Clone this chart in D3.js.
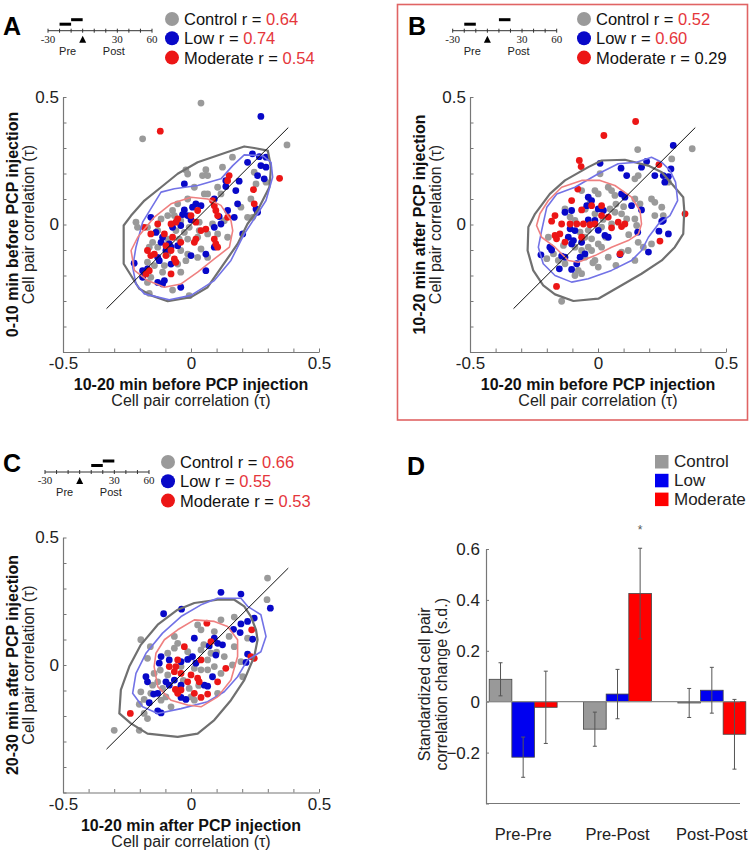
<!DOCTYPE html>
<html><head><meta charset="utf-8">
<script src="https://cdn.jsdelivr.net/npm/d3@7"></script>
<style>
body{margin:0;background:#fff;}
svg{display:block;font-family:"Liberation Sans",Arial,Helvetica,sans-serif;}
</style>
</head><body>
<svg id="chart" width="751" height="853"></svg>
<script>
// ---------- DATA ----------
const groupNames = ["Control", "Low", "Moderate"];
const rA = ["0.64", "0.74", "0.54"], rSigA = [true, true, true];
const rB = ["0.52", "0.60", "0.29"], rSigB = [true, true, false];
const rC = ["0.66", "0.55", "0.53"], rSigC = [true, true, true];

const timeTicks = [-30, -20, -10, 0, 10, 20, 30, 40, 50, 60];
const timeTickLabels = [-30, 30, 60];
const windowsA = [[-20, -10], [-10, 0]];
const windowsB = [[-20, -10], [10, 20]];
const windowsC = [[10, 20], [20, 30]];

const controlA = [[0.039,0.476],[-0.189,0.336],[0.375,0.312],[0.162,0.264],[0.123,0.225],[0.058,0.215],[-0.02,0.214],[-0.013,0.198],[0.045,0.192],[0.065,0.192],[0.247,0.205],[0.254,0.159],[0.293,0.166],[0.013,0.146],[0.052,0.12],[0.065,0.12],[0.117,0.12],[0.234,0.1],[0.241,0.028],[0.221,0.028],[0.195,0.068],[-0.013,0.1],[-0.052,0.081],[-0.072,0.055],[-0.091,0.035],[-0.065,0.035],[-0.04,0.015],[-0.117,0.022],[-0.215,0.009],[-0.17,-0.011],[-0.13,-0.024],[-0.059,-0.024],[-0.026,-0.031],[-0.007,-0.011],[0.032,-0.024],[0.065,-0.037],[0.084,0.002],[0.13,0.015],[0.104,-0.037],[0.143,-0.05],[0.026,-0.05],[-0.013,-0.057],[-0.046,-0.057],[-0.091,-0.057],[-0.15,-0.07],[-0.163,-0.089],[-0.13,-0.089],[-0.04,-0.102],[-0.013,-0.116],[0.039,-0.096],[0.026,-0.129],[0.065,-0.129],[-0.02,-0.142],[-0.052,-0.155],[-0.104,-0.161],[-0.143,-0.161],[-0.17,-0.148],[-0.111,-0.187],[-0.04,-0.187],[-0.157,-0.207],[-0.17,-0.227],[-0.072,-0.257],[-0.163,-0.27],[-0.007,-0.279],[-0.209,-0.011],[0.032,0.009],[0.104,0.146],[-0.091,-0.116]];
const lowA = [[0.273,0.424],[0.24,0.277],[0.267,0.266],[0.293,0.264],[0.221,0.244],[0.273,0.231],[0.293,0.225],[0.26,0.192],[0.286,0.179],[0.188,0.17],[0.136,0.172],[-0.026,0.159],[0.136,0.149],[0.175,0.133],[0.091,0.1],[0.019,0.081],[0.182,0.081],[0.039,0.074],[0.006,0.068],[-0.026,0.057],[-0.033,0.039],[-0.013,0.035],[0.0,0.018],[0.11,0.031],[0.143,0.055],[0.169,0.028],[-0.157,0.028],[0.254,0.061],[0.26,0.048],[0.117,0.002],[0.091,-0.011],[-0.04,-0.004],[-0.072,-0.011],[-0.137,-0.031],[-0.111,-0.05],[-0.117,-0.07],[-0.085,-0.076],[-0.052,-0.083],[-0.078,-0.089],[-0.098,-0.102],[-0.13,-0.129],[-0.124,-0.142],[-0.078,-0.155],[0.0,-0.122],[0.058,-0.116],[0.091,-0.089],[0.202,-0.037],[-0.222,-0.152],[-0.189,-0.181],[-0.17,-0.174],[-0.189,-0.207],[-0.13,-0.227],[-0.111,-0.233],[-0.04,-0.246],[0.058,-0.181],[-0.104,-0.22]];
const moderateA = [[-0.12,0.366],[0.346,0.181],[0.149,0.192],[0.143,0.172],[0.244,0.137],[0.247,0.081],[0.084,0.094],[0.091,0.074],[0.097,0.055],[0.104,0.035],[0.143,0.028],[0.026,0.055],[0.0,0.035],[0.019,0.009],[0.058,-0.018],[0.039,-0.024],[-0.052,0.022],[-0.059,0.009],[-0.078,0.002],[-0.13,0.002],[-0.183,-0.011],[-0.157,-0.037],[-0.104,-0.037],[-0.072,-0.05],[0.013,-0.07],[0.091,-0.057],[0.097,-0.076],[0.104,-0.089],[-0.04,-0.07],[-0.098,-0.083],[-0.078,-0.102],[-0.17,-0.102],[-0.157,-0.122],[-0.143,-0.116],[-0.098,-0.122],[-0.065,-0.135],[-0.059,-0.148],[-0.163,-0.181],[-0.176,-0.194],[-0.078,-0.194],[0.019,-0.057]];
const contourControlA = [[-0.263,-0.004],[-0.263,-0.154],[-0.202,-0.252],[-0.156,-0.278],[-0.091,-0.301],[0,-0.285],[0.065,-0.246],[0.182,-0.076],[0.221,0.003],[0.26,0.055],[0.306,0.146],[0.3125,0.225],[0.3,0.29],[0.247,0.3],[0.208,0.306],[0.143,0.284],[0.026,0.244],[-0.052,0.199],[-0.117,0.146],[-0.182,0.094],[-0.234,0.035]];
const contourLowA = [[-0.117,0.127],[-0.189,0.009],[-0.215,-0.089],[-0.228,-0.167],[-0.215,-0.233],[-0.182,-0.272],[-0.085,-0.295],[0,-0.278],[0.091,-0.22],[0.156,-0.141],[0.208,-0.037],[0.26,0.042],[0.293,0.094],[0.319,0.186],[0.3125,0.244],[0.28,0.27],[0.208,0.273],[0.163,0.231],[0.117,0.179],[0.026,0.153],[-0.065,0.14]];
const contourModerateA = [[-0.234,-0.102],[-0.221,-0.18],[-0.169,-0.22],[-0.104,-0.246],[-0.039,-0.233],[0.026,-0.187],[0.091,-0.135],[0.15,-0.089],[0.163,-0.024],[0.156,0.016],[0.117,0.075],[0.065,0.1],[0,0.107],[-0.078,0.081],[-0.143,0.029],[-0.208,-0.05]];

const controlB = [[0.155,0.294],[0.368,0.297],[0.288,0.257],[0.275,0.166],[0.209,0.1],[0.222,0.087],[0.249,0.068],[0.255,0.035],[0.222,0.035],[0.164,0.081],[0.144,0.022],[0.151,-0.004],[0.157,-0.07],[0.157,0.192],[0.144,0.179],[0.008,0.199],[0.04,0.146],[0.053,0.133],[0.066,0.114],[-0.012,0.133],[-0.064,0.133],[0.001,0.12],[-0.129,0.061],[-0.109,0.029],[-0.09,0.016],[-0.012,0.042],[0.047,0.061],[0.066,0.048],[0.092,0.042],[0.112,0.022],[0.053,0.002],[0.014,-0.01],[-0.038,-0.023],[-0.051,-0.05],[-0.025,-0.056],[0.001,-0.076],[0.014,-0.089],[-0.038,-0.089],[-0.064,-0.102],[-0.025,-0.102],[-0.051,-0.128],[-0.012,-0.141],[0.04,-0.128],[0.092,-0.108],[0.118,-0.102],[0.144,-0.141],[0.001,-0.167],[-0.077,-0.18],[-0.064,-0.193],[-0.09,-0.2],[-0.129,-0.154],[-0.155,-0.141],[-0.174,-0.115],[-0.2,-0.134],[-0.135,-0.082],[-0.194,-0.05],[-0.142,-0.301],[0.144,0.1],[0.209,-0.076],[0.177,-0.089],[-0.09,-0.089],[0.02,0.02],[0.07,0.08],[-0.03,0.09],[0.1,0.07],[-0.07,-0.03],[0.03,-0.05],[0.12,-0.04],[-0.02,-0.15],[0.07,-0.16],[-0.05,0.06]];
const lowB = [[0.294,0.31],[0.008,0.24],[0.09,0.221],[0.112,0.192],[0.17,0.225],[0.19,0.247],[0.222,0.192],[0.255,0.192],[0.275,0.188],[0.285,0.218],[0.261,0.166],[-0.038,0.107],[-0.025,0.094],[-0.044,0.074],[-0.129,0.048],[-0.103,0.055],[0.001,0.061],[0.021,0.055],[0.092,0.12],[0.105,0.107],[0.131,0.074],[0.17,0.057],[-0.038,0.018],[-0.012,0.016],[0.001,-0.023],[0.027,-0.043],[0.04,-0.05],[-0.109,-0.017],[-0.09,-0.024],[-0.116,-0.05],[-0.096,-0.063],[-0.103,-0.076],[-0.064,-0.07],[-0.188,-0.089],[-0.181,-0.1],[-0.223,-0.119],[-0.142,-0.124],[-0.129,-0.128],[-0.07,-0.128],[-0.051,-0.115],[-0.083,-0.154],[-0.103,-0.176],[-0.151,-0.174],[0.086,-0.118],[0.155,-0.03],[0.197,-0.108],[0.238,-0.026],[0.255,0.016],[0.275,-0.037],[0.249,0.012]];
const moderateB = [[0.147,0.404],[0.023,0.349],[-0.073,0.251],[-0.066,0.227],[0.238,0.235],[0.34,0.042],[0.242,-0.065],[-0.162,-0.243],[-0.079,0.139],[-0.103,0.094],[-0.064,0.057],[-0.025,0.074],[0.014,0.074],[0.04,0.029],[0.014,0.035],[-0.168,0.035],[-0.181,0.013],[-0.142,0.002],[-0.109,0.002],[-0.083,0.002],[-0.057,0.002],[-0.031,-0.001],[-0.012,0.002],[-0.168,-0.043],[-0.162,-0.056],[-0.149,-0.037],[0.079,0.009],[0.092,-0.008],[0.105,0.002],[-0.129,-0.069],[0.053,-0.013],[0.086,-0.115],[-0.064,-0.05]];
const contourControlB = [[-0.272,-0.01],[-0.275,-0.102],[-0.253,-0.18],[-0.214,-0.239],[-0.168,-0.274],[-0.096,-0.3],[0.001,-0.291],[0.079,-0.246],[0.17,-0.193],[0.249,-0.141],[0.3,-0.089],[0.333,-0.037],[0.337,0.055],[0.333,0.107],[0.3,0.146],[0.249,0.205],[0.196,0.231],[0.105,0.254],[0.014,0.251],[-0.038,0.225],[-0.129,0.173],[-0.188,0.12],[-0.246,0.042]];
const contourLowB = [[0.001,0.199],[0.079,0.238],[0.151,0.244],[0.209,0.264],[0.249,0.244],[0.281,0.212],[0.303,0.166],[0.311,0.094],[0.281,0.035],[0.236,0.002],[0.197,-0.05],[0.17,-0.102],[0.131,-0.141],[0.053,-0.18],[-0.038,-0.213],[-0.103,-0.226],[-0.168,-0.2],[-0.214,-0.154],[-0.233,-0.089],[-0.22,-0.023],[-0.2,0.068],[-0.161,0.12],[-0.09,0.146]];
const contourModerateB = [[-0.24,-0.004],[-0.22,-0.05],[-0.168,-0.089],[-0.116,-0.141],[-0.077,-0.148],[-0.012,-0.122],[0.053,-0.089],[0.118,-0.063],[0.158,-0.037],[0.17,0.002],[0.164,0.055],[0.131,0.107],[0.066,0.153],[0.008,0.173],[-0.064,0.173],[-0.142,0.146],[-0.194,0.094],[-0.227,0.042]];

const controlC = [[0.299,0.341],[0.297,0.256],[-0.196,0.099],[-0.159,0.072],[-0.17,0.026],[-0.065,0.112],[-0.052,0.085],[0.026,0.157],[0.039,0.138],[0.117,0.177],[0.169,0.188],[0.091,0.131],[0.149,0.112],[0.169,0.072],[0.221,0.105],[0.13,0.033],[0.162,0.0],[0.195,0.013],[0.202,-0.046],[-0.091,0.046],[-0.065,0.066],[-0.013,0.052],[0.039,0.059],[0.065,0.02],[0.091,-0.006],[0.065,-0.019],[0.039,-0.019],[0.013,-0.013],[-0.144,-0.033],[-0.13,-0.066],[-0.15,-0.079],[-0.111,-0.092],[-0.091,-0.039],[-0.157,-0.111],[-0.196,-0.105],[-0.183,-0.135],[-0.117,-0.138],[-0.098,-0.125],[-0.078,-0.164],[0.0,-0.125],[0.013,-0.138],[-0.007,-0.092],[0.104,-0.111],[-0.202,-0.154],[-0.183,-0.19],[-0.17,-0.21],[-0.3,-0.256],[-0.202,-0.256],[0.078,0.046],[0.117,-0.033],[-0.039,-0.006],[0.0,0.03],[0.05,0.08],[-0.03,-0.06],[0.1,0.05],[-0.12,-0.02],[0.03,-0.08]];
const lowC = [[0.117,0.285],[0.195,0.278],[-0.037,0.219],[-0.107,0.201],[0.31,0.223],[0.247,0.184],[0.221,0.171],[0.195,0.161],[0.166,0.14],[0.192,0.127],[0.013,0.105],[0.091,0.105],[0.104,0.085],[0.123,0.079],[0.071,0.075],[-0.117,0.033],[-0.124,0.007],[-0.085,0.02],[-0.013,0.022],[-0.039,0.013],[0.006,0.033],[0.019,0.007],[0.097,0.039],[-0.176,-0.046],[-0.17,-0.066],[-0.098,-0.066],[-0.085,-0.079],[-0.065,-0.059],[-0.039,-0.079],[-0.052,-0.098],[0.052,-0.079],[0.065,-0.083],[-0.039,-0.127],[-0.02,-0.135],[-0.13,-0.111],[-0.163,-0.148],[-0.13,-0.18],[-0.117,-0.188],[0.221,0.043],[0.215,0.01],[0.241,0.101],[-0.146,-0.114],[0.084,-0.046]];
const moderateC = [[0.062,0.164],[0.237,0.138],[0.234,0.033],[0.247,0.026],[0.078,0.092],[-0.026,0.072],[0.039,0.02],[-0.052,0.02],[-0.059,-0.006],[-0.085,-0.006],[-0.065,-0.026],[-0.039,-0.033],[0.0,-0.039],[0.026,-0.052],[0.032,-0.066],[-0.013,-0.066],[0.104,-0.066],[0.136,-0.013],[-0.061,-0.096],[-0.039,-0.098],[-0.052,-0.111],[0.013,-0.111],[0.065,-0.114],[0.039,-0.127],[-0.237,-0.19]];
const contourControlC = [[-0.28,-0.19],[-0.274,-0.098],[-0.241,-0.006],[-0.196,0.079],[-0.13,0.158],[-0.052,0.217],[0.013,0.243],[0.104,0.256],[0.169,0.256],[0.208,0.23],[0.234,0.19],[0.254,0.138],[0.26,0.099],[0.247,0.033],[0.208,-0.059],[0.156,-0.138],[0.091,-0.216],[0.026,-0.269],[-0.052,-0.282],[-0.17,-0.269],[-0.235,-0.229]];
const contourLowC = [[-0.228,-0.111],[-0.215,-0.033],[-0.176,0.046],[-0.111,0.125],[-0.039,0.19],[0.039,0.236],[0.104,0.262],[0.195,0.262],[0.221,0.23],[0.273,0.197],[0.293,0.112],[0.273,0.052],[0.221,0.02],[0.182,-0.046],[0.13,-0.105],[0.065,-0.144],[-0.039,-0.171],[-0.13,-0.19],[-0.189,-0.164]];
const contourModerateC = [[-0.144,-0.006],[-0.13,-0.085],[-0.078,-0.138],[-0.013,-0.157],[0.039,-0.164],[0.104,-0.125],[0.156,-0.059],[0.182,0.033],[0.182,0.099],[0.143,0.151],[0.091,0.171],[0.013,0.177],[-0.052,0.138],[-0.104,0.099],[-0.137,0.046]];

// Panel D
const dGroups = ["Pre-Pre", "Pre-Post", "Post-Post"];
const controlMean = [0.088, -0.108, -0.005];
const lowMean = [-0.218, 0.030, 0.045];
const moderateMean = [-0.022, 0.425, -0.128];
const controlErr = [0.065, 0.067, 0.057];
const lowErr = [0.079, 0.097, 0.090];
const moderateErr = [0.142, 0.178, 0.137];
const dTicks = [-0.4, -0.2, 0, 0.2, 0.4, 0.6];

// ---------- STYLE ----------
const dotColor = {Control: "#9a9a9a", Low: "#0808c8", Moderate: "#ec1616"};
const contourColor = {Control: "#707070", Low: "#7272e6", Moderate: "#ef8080"};
const contourWidth = {Control: 2.2, Low: 1.6, Moderate: 1.6};
const sigRed = "#e5363b";
const axisGray = "#777";

const svg = d3.select("#chart");

function styleAxis(g, fs) {
  g.select(".domain").attr("stroke", axisGray).attr("stroke-width", 1.2);
  g.selectAll(".tick line").attr("stroke", axisGray);
  g.selectAll(".tick text").attr("fill", "#222").style("font-size", fs + "px")
    .style("font-family", '"Liberation Sans",Arial,sans-serif');
}

function scatterPanel(o) {
  const g = svg.append("g");
  const x = d3.scaleLinear().domain([-0.5, 0.5]).range([o.left, o.left + 256]);
  const y = d3.scaleLinear().domain([-0.5, 0.5]).range([o.top + 255, o.top]);
  const tv = d3.range(-5, 6).map(d => d / 10);
  const fmtX = v => Math.abs(v) < 1e-9 ? "0" : (Math.abs(v - 0.5) < 1e-9 ? "0.5" : (Math.abs(v + 0.5) < 1e-9 ? "-0.5" : ""));
  const fmtY = v => Math.abs(v) < 1e-9 ? "0" : (Math.abs(v - 0.5) < 1e-9 ? "0.5" : "");
  g.append("g").attr("transform", `translate(0,${y(-0.5)})`)
    .call(d3.axisBottom(x).tickValues(tv).tickFormat(fmtX).tickSizeInner(-3.5).tickSizeOuter(0).tickPadding(5))
    .call(a => styleAxis(a, 17));
  g.append("g").attr("transform", `translate(${x(-0.5)},0)`)
    .call(d3.axisLeft(y).tickValues(tv).tickFormat(fmtY).tickSizeInner(-3.5).tickSizeOuter(0).tickPadding(4))
    .call(a => styleAxis(a, 17));

  const line = d3.line().x(d => x(d[0])).y(d => y(d[1])).curve(d3.curveLinearClosed);
  const sets = [["Control", o.control], ["Low", o.low], ["Moderate", o.moderate]];
  sets.forEach(([name, pts]) => {
    g.append("g").selectAll("circle").data(pts).join("circle")
      .attr("cx", d => x(d[0])).attr("cy", d => y(d[1])).attr("r", 3.4)
      .attr("fill", dotColor[name]);
  });
  const contours = [["Control", o.cControl], ["Low", o.cLow], ["Moderate", o.cModerate]];
  contours.forEach(([name, pts]) => {
    g.append("path").datum(pts).attr("d", line).attr("fill", "none")
      .attr("stroke", contourColor[name]).attr("stroke-width", contourWidth[name])
      .attr("stroke-linejoin", "round");
  });
  // identity line
  g.append("line").attr("x1", x(-0.33)).attr("y1", y(-0.33)).attr("x2", x(0.38)).attr("y2", y(0.38))
    .attr("stroke", "#111").attr("stroke-width", 1);

  // titles
  const cx = x(0), cy = y(0), by = y(-0.5), lx = x(-0.5);
  g.append("text").attr("x", cx).attr("y", by + 38).attr("text-anchor", "middle")
    .style("font-size", "16px").style("font-weight", "bold").attr("fill", "#111").text(o.xTitle);
  g.append("text").attr("x", cx).attr("y", by + 54).attr("text-anchor", "middle")
    .style("font-size", "16px").attr("fill", "#222").text("Cell pair correlation (τ)");
  g.append("text").attr("transform", `translate(${lx - 45},${cy}) rotate(-90)`).attr("text-anchor", "middle")
    .style("font-size", "16px").style("font-weight", "bold").attr("fill", "#111").text(o.yTitle);
  g.append("text").attr("transform", `translate(${lx - 29},${cy}) rotate(-90)`).attr("text-anchor", "middle")
    .style("font-size", "16px").attr("fill", "#222").text("Cell pair correlation (τ)");

  // panel letter
  svg.append("text").attr("x", o.letterX).attr("y", o.letterY).style("font-size", "25px")
    .style("font-weight", "bold").attr("fill", "#000").text(o.letter);

  timeline(o.tlX, o.tlY, o.windows);
  legend(o.legX, o.legY, o.r, o.rSig);
}

function timeline(x0, ly, windows) {
  const g = svg.append("g");
  const t = d3.scaleLinear().domain([-30, 60]).range([x0, x0 + 104]);
  g.append("line").attr("x1", t(-30)).attr("x2", t(60)).attr("y1", ly).attr("y2", ly)
    .attr("stroke", "#333").attr("stroke-width", 1);
  g.selectAll("line.tk").data(timeTicks).join("line").attr("class", "tk")
    .attr("x1", d => t(d)).attr("x2", d => t(d)).attr("y1", ly - 2).attr("y2", ly + 2)
    .attr("stroke", "#333").attr("stroke-width", 1);
  g.selectAll("text.tl").data(timeTickLabels).join("text").attr("class", "tl")
    .attr("x", d => t(d)).attr("y", ly + 12).attr("text-anchor", "middle")
    .style("font-family", '"Liberation Serif","Times New Roman",serif').style("font-size", "11px")
    .attr("fill", "#222").text(d => d);
  g.append("text").attr("x", t(-13)).attr("y", ly + 24).attr("text-anchor", "middle")
    .style("font-size", "11px").attr("fill", "#222").text("Pre");
  g.append("text").attr("x", t(27)).attr("y", ly + 24).attr("text-anchor", "middle")
    .style("font-size", "11px").attr("fill", "#222").text("Post");
  g.append("path").attr("d", `M${t(0)},${ly + 5}L${t(0) - 3.5},${ly + 12}L${t(0) + 3.5},${ly + 12}Z`).attr("fill", "#000");
  const offs = [-6.5, -11];
  windows.forEach((w, i) => {
    g.append("line").attr("x1", t(w[0])).attr("x2", t(w[1])).attr("y1", ly + offs[i]).attr("y2", ly + offs[i])
      .attr("stroke", "#000").attr("stroke-width", 3);
  });
}

function legend(x0, y0, rv, sig) {
  const g = svg.append("g");
  groupNames.forEach((name, i) => {
    const yy = y0 + i * 19.3;
    g.append("circle").attr("cx", x0).attr("cy", yy).attr("r", 7).attr("fill", dotColor[name]);
    const tx = g.append("text").attr("x", x0 + 12).attr("y", yy + 6).style("font-size", "16.5px").attr("fill", "#111");
    tx.append("tspan").text(name + " r = ");
    tx.append("tspan").attr("fill", sig[i] ? sigRed : "#111").text(rv[i]);
  });
}

// Panel B frame
svg.append("rect").attr("x", 397.5).attr("y", 4.5).attr("width", 350).attr("height", 415.5)
  .attr("fill", "none").attr("stroke", "#e06464").attr("stroke-width", 1.6);

scatterPanel({left: 63, top: 97, control: controlA, low: lowA, moderate: moderateA,
  cControl: contourControlA, cLow: contourLowA, cModerate: contourModerateA,
  xTitle: "10-20 min before PCP injection", yTitle: "0-10 min before PCP injection",
  letter: "A", letterX: 3, letterY: 35, tlX: 48, tlY: 30.7, windows: windowsA,
  legX: 172, legY: 19, r: rA, rSig: rSigA});
scatterPanel({left: 470, top: 97, control: controlB, low: lowB, moderate: moderateB,
  cControl: contourControlB, cLow: contourLowB, cModerate: contourModerateB,
  xTitle: "10-20 min before PCP injection", yTitle: "10-20 min after PCP injection",
  letter: "B", letterX: 408, letterY: 35, tlX: 452.7, tlY: 30.7, windows: windowsB,
  legX: 584, legY: 19, r: rB, rSig: rSigB});
scatterPanel({left: 63, top: 537.5, control: controlC, low: lowC, moderate: moderateC,
  cControl: contourControlC, cLow: contourLowC, cModerate: contourModerateC,
  xTitle: "10-20 min after PCP injection", yTitle: "20-30 min after PCP injection",
  letter: "C", letterX: 3, letterY: 472, tlX: 45, tlY: 472, windows: windowsC,
  legX: 168, legY: 462, r: rC, rSig: rSigC});

// ---------- Panel D ----------
(function () {
  const g = svg.append("g");
  const y = d3.scaleLinear().domain([-0.4, 0.6]).range([803.5, 549]);
  const xg = d3.scaleBand().domain(dGroups).range([476, 759]).paddingInner(0.28).paddingOuter(0.14);
  const xs = d3.scaleBand().domain(groupNames).range([0, xg.bandwidth()]);
  const means = {Control: controlMean, Low: lowMean, Moderate: moderateMean};
  const errs = {Control: controlErr, Low: lowErr, Moderate: moderateErr};
  const barColor = {Control: "#999999", Low: "#0000f0", Moderate: "#ff0000"};
  const axX = 486, axEnd = 740;

  g.append("g").attr("transform", `translate(${axX},0)`)
    .call(d3.axisLeft(y).tickValues(dTicks).tickFormat(v => Math.abs(v + 0.4) < 1e-9 ? "" : (Math.abs(v) < 1e-9 ? "0" : d3.format(".1f")(v)))
      .tickSizeInner(-3).tickSizeOuter(0).tickPadding(6))
    .call(a => styleAxis(a, 17));
  g.append("line").attr("x1", axX).attr("x2", axEnd).attr("y1", y(-0.4)).attr("y2", y(-0.4))
    .attr("stroke", axisGray).attr("stroke-width", 1.2);

  const rows = [];
  dGroups.forEach((grp, gi) => groupNames.forEach(s => rows.push({grp, s, v: means[s][gi], e: errs[s][gi]})));

  g.selectAll("rect.bar").data(rows).join("rect").attr("class", "bar")
    .attr("x", d => xg(d.grp) + xs(d.s)).attr("width", xs.bandwidth())
    .attr("y", d => y(Math.max(0, d.v))).attr("height", d => Math.abs(y(d.v) - y(0)))
    .attr("fill", d => barColor[d.s]).attr("stroke", "#444").attr("stroke-width", 0.8);

  g.append("line").attr("x1", axX).attr("x2", axEnd).attr("y1", y(0)).attr("y2", y(0))
    .attr("stroke", "#888").attr("stroke-width", 1.2);

  const eb = g.selectAll("g.eb").data(rows).join("g").attr("class", "eb");
  const cxf = d => xg(d.grp) + xs(d.s) + xs.bandwidth() / 2;
  eb.append("line").attr("x1", cxf).attr("x2", cxf).attr("y1", d => y(d.v + d.e)).attr("y2", d => y(d.v - d.e))
    .attr("stroke", "#555").attr("stroke-width", 1);
  eb.append("line").attr("x1", d => cxf(d) - 2).attr("x2", d => cxf(d) + 2).attr("y1", d => y(d.v + d.e)).attr("y2", d => y(d.v + d.e))
    .attr("stroke", "#555").attr("stroke-width", 1);
  eb.append("line").attr("x1", d => cxf(d) - 2).attr("x2", d => cxf(d) + 2).attr("y1", d => y(d.v - d.e)).attr("y2", d => y(d.v - d.e))
    .attr("stroke", "#555").attr("stroke-width", 1);

  // significance star
  const star = rows.find(d => d.grp === "Pre-Post" && d.s === "Moderate");
  g.append("text").attr("x", cxf(star)).attr("y", y(star.v + star.e) - 14).attr("text-anchor", "middle")
    .style("font-size", "12px").attr("fill", "#555").text("*");

  g.selectAll("text.cat").data(dGroups).join("text").attr("class", "cat")
    .attr("x", d => xg(d) + xg.bandwidth() / 2).attr("y", 840).attr("text-anchor", "middle")
    .style("font-size", "16.5px").attr("fill", "#222").text(d => d);

  const ty = (y(0.6) + y(-0.4)) / 2 + 8;
  g.append("text").attr("transform", `translate(430,${ty}) rotate(-90)`).attr("text-anchor", "middle")
    .style("font-size", "16px").attr("fill", "#222").text("Standardized cell pair");
  g.append("text").attr("transform", `translate(447,${ty}) rotate(-90)`).attr("text-anchor", "middle")
    .style("font-size", "16px").attr("fill", "#222").text("correlation change (s.d.)");

  svg.append("text").attr("x", 407).attr("y", 475).style("font-size", "25px").style("font-weight", "bold").text("D");

  groupNames.forEach((s, i) => {
    const yy = 455 + i * 18.8;
    g.append("rect").attr("x", 655).attr("y", yy).attr("width", 13.5).attr("height", 13.5).attr("fill", barColor[s]);
    g.append("text").attr("x", 674).attr("y", yy + 12).style("font-size", "17px").attr("fill", "#222").text(s);
  });
})();
</script>
</body></html>
